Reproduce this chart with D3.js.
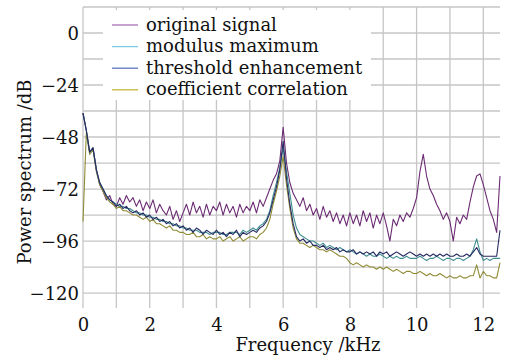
<!DOCTYPE html>
<html><head><meta charset="utf-8">
<script src="https://cdn.jsdelivr.net/npm/d3@7/dist/d3.min.js"></script>
<style>
body{margin:0;background:#fff}
svg{display:block}
text{font-family:"DejaVu Serif","Liberation Serif",serif;fill:#111}
</style>
</head><body>
<svg id="chart" width="509" height="360"></svg>
<script>
// ---- data ----
const seriesNames = ["original signal","modulus maximum","threshold enhancement","coefficient correlation"];
const freqStep = 0.1; // kHz between samples, 0 .. 12.5
const originalSignal = [
-37,-45,-55,-53,-63,-70,-73,-77,-75,-79,
-80,-76,-79,-75,-78,-76,-80,-77,-82,-78,
-81,-77,-83,-79,-82,-84,-80,-86,-82,-87,
-83,-79,-84,-78,-83,-80,-85,-79,-84,-80,
-82,-78,-84,-79,-83,-80,-85,-79,-83,-80,
-82,-78,-83,-77,-80,-76,-72,-68,-65,-59,
-43.5,-60,-69,-74,-77,-80,-76,-82,-79,-84,
-81,-86,-80,-85,-82,-87,-83,-88,-84,-89,
-83,-88,-84,-89,-82,-87,-83,-90,-84,-88,
-83,-89,-96,-86,-89,-84,-87,-83,-85,-81,
-76,-64,-56,-66,-72,-75,-79,-82,-86,-83,
-87,-96,-85,-88,-84,-86,-78,-71,-66,-65,
-70,-76,-82,-86,-92,-66];
const modulusMaximum = [
-37,-45,-55,-53,-63,-69,-72,-75,-77,-78,
-79,-80,-80,-81,-81,-82,-83,-83,-84,-84,
-85,-85,-86,-86,-87,-87,-88,-88,-89,-89,
-90,-90,-91,-91,-91,-92,-92,-92,-93,-92,
-92,-92,-93,-93,-92,-92,-92,-93,-91,-92,
-91,-90,-91,-89,-88,-86,-82,-75,-69,-62,
-53,-64,-74,-84,-90,-93,-94,-95,-96,-96,
-97,-98,-97,-99,-98,-99,-100,-99,-100,-101,
-100,-101,-102,-101,-102,-103,-102,-103,-103,-102,
-103,-104,-103,-104,-103,-104,-104,-103,-104,-104,
-104,-103,-104,-105,-104,-104,-103,-104,-105,-104,
-104,-105,-104,-104,-105,-104,-103,-100,-95,-101,
-105,-104,-105,-104,-104,-104];
const thresholdEnhancement = [
-37,-45,-55,-53,-63,-69,-72,-75,-77,-78,
-80,-79,-81,-80,-82,-83,-82,-84,-83,-85,
-84,-86,-85,-87,-86,-88,-87,-89,-88,-90,
-89,-91,-90,-92,-90,-91,-93,-91,-92,-93,
-91,-93,-92,-94,-92,-93,-91,-94,-92,-93,
-92,-91,-92,-90,-89,-87,-83,-77,-71,-63,
-50,-67,-79,-88,-94,-96,-95,-97,-96,-98,
-98,-99,-98,-100,-99,-100,-99,-101,-100,-101,
-101,-100,-102,-101,-102,-101,-102,-101,-103,-101,
-102,-101,-103,-102,-101,-102,-103,-102,-101,-102,
-103,-102,-103,-102,-103,-102,-103,-102,-103,-102,
-103,-103,-102,-103,-103,-102,-103,-101,-99,-102,
-103,-103,-103,-103,-103,-91];
const coefficientCorrelation = [
-87,-46,-56,-54,-64,-70,-73,-76,-78,-79,
-81,-80,-82,-82,-83,-84,-84,-85,-86,-85,
-87,-86,-88,-88,-89,-90,-89,-91,-91,-92,
-92,-93,-93,-92,-94,-94,-93,-95,-94,-95,
-95,-94,-96,-95,-94,-96,-95,-94,-96,-95,
-94,-94,-95,-93,-92,-90,-86,-79,-73,-66,
-57,-70,-81,-90,-95,-97,-97,-98,-99,-98,
-99,-100,-100,-101,-100,-101,-102,-103,-103,-104,
-106,-107,-106,-107,-108,-107,-108,-108,-109,-108,
-109,-108,-109,-110,-109,-110,-111,-110,-110,-111,
-111,-110,-111,-112,-111,-112,-112,-111,-112,-113,
-112,-113,-113,-112,-113,-113,-112,-112,-107,-113,
-110,-112,-112,-113,-113,-106];
const xTickLabels = [0,2,4,6,8,10,12];
const yTickLabels = [0,-24,-48,-72,-96,-120];
const xGridValues = [1,2,3,4,5,6,7,8,9,10,11,12];
const yGridValues = [12,0,-12,-24,-36,-48,-60,-72,-84,-96,-108,-120];
const lineColors = ["#6b2b73","#3f8e90","#272a62","#8f8b34"];
const legendColors = ["#a672b3","#7ccbe6","#5a78c0","#c6b63e"];

// ---- layout ----
const svg = d3.select("#chart");
const L = 83, R = 500, T = 7, B = 308;
const x = d3.scaleLinear().domain([0, 12.5]).range([L, R]);
const y = d3.scaleLinear().domain([-126.9, 12]).range([B, T]);

const grid = svg.append("g").attr("stroke","#c6c6c6").attr("stroke-width",1.3);
grid.selectAll("line.h").data(yGridValues).join("line").attr("class","h")
  .attr("x1",L).attr("x2",R).attr("y1",d=>y(d)).attr("y2",d=>y(d));
grid.selectAll("line.v").data(xGridValues).join("line").attr("class","v")
  .attr("x1",d=>x(d)).attr("x2",d=>x(d)).attr("y1",T).attr("y2",B);
grid.append("line").attr("x1",x(0)).attr("x2",x(0)).attr("y1",T).attr("y2",B);

// legend background
svg.append("rect").attr("x",103).attr("y",10).attr("width",268).attr("height",90).attr("fill","#fff");

// axes labels via d3 axes
const yAxis = d3.axisLeft(y).tickValues(yTickLabels).tickSize(0).tickPadding(4)
  .tickFormat(d => d < 0 ? "\u2212" + Math.abs(d) : String(d));
const gy = svg.append("g").attr("transform",`translate(${L},0)`).call(yAxis);
gy.select(".domain").remove();
gy.selectAll("text").attr("font-size",18).attr("font-family",'"DejaVu Serif",serif').attr("fill","#111").attr("dy","0.36em");

const xAxis = d3.axisBottom(x).tickValues(xTickLabels).tickSize(0).tickPadding(10).tickFormat(d3.format("d"));
const gx = svg.append("g").attr("transform",`translate(0,${B})`).call(xAxis);
gx.select(".domain").remove();
gx.selectAll("text").attr("font-size",18).attr("font-family",'"DejaVu Serif",serif').attr("fill","#111");

// data lines
const allSeries = [originalSignal, coefficientCorrelation, modulusMaximum, thresholdEnhancement];
const allColors = [lineColors[0], lineColors[3], lineColors[1], lineColors[2]];
const line = d3.line().x((d,i)=>x(i*freqStep)).y(d=>y(d));
svg.append("g").selectAll("path").data(allSeries).join("path")
  .attr("d", line).attr("fill","none")
  .attr("stroke",(d,i)=>allColors[i]).attr("stroke-width",1.1).attr("stroke-linejoin","round");

// legend
const lg = svg.append("g");
seriesNames.forEach((name,i)=>{
  const yy = 25 + i*21.6;
  lg.append("line").attr("x1",112).attr("x2",138).attr("y1",yy).attr("y2",yy)
    .attr("stroke",legendColors[i]).attr("stroke-width",1.3);
  lg.append("text").attr("x",146).attr("y",yy+5.5).attr("font-size",18).text(name);
});

// axis titles
svg.append("text").attr("x",308).attr("y",351).attr("text-anchor","middle")
  .attr("font-size",18).text("Frequency /kHz");
svg.append("text").attr("transform","translate(31,172) rotate(-90)").attr("text-anchor","middle")
  .attr("font-size",18).text("Power spectrum /dB");
</script>
</body></html>
